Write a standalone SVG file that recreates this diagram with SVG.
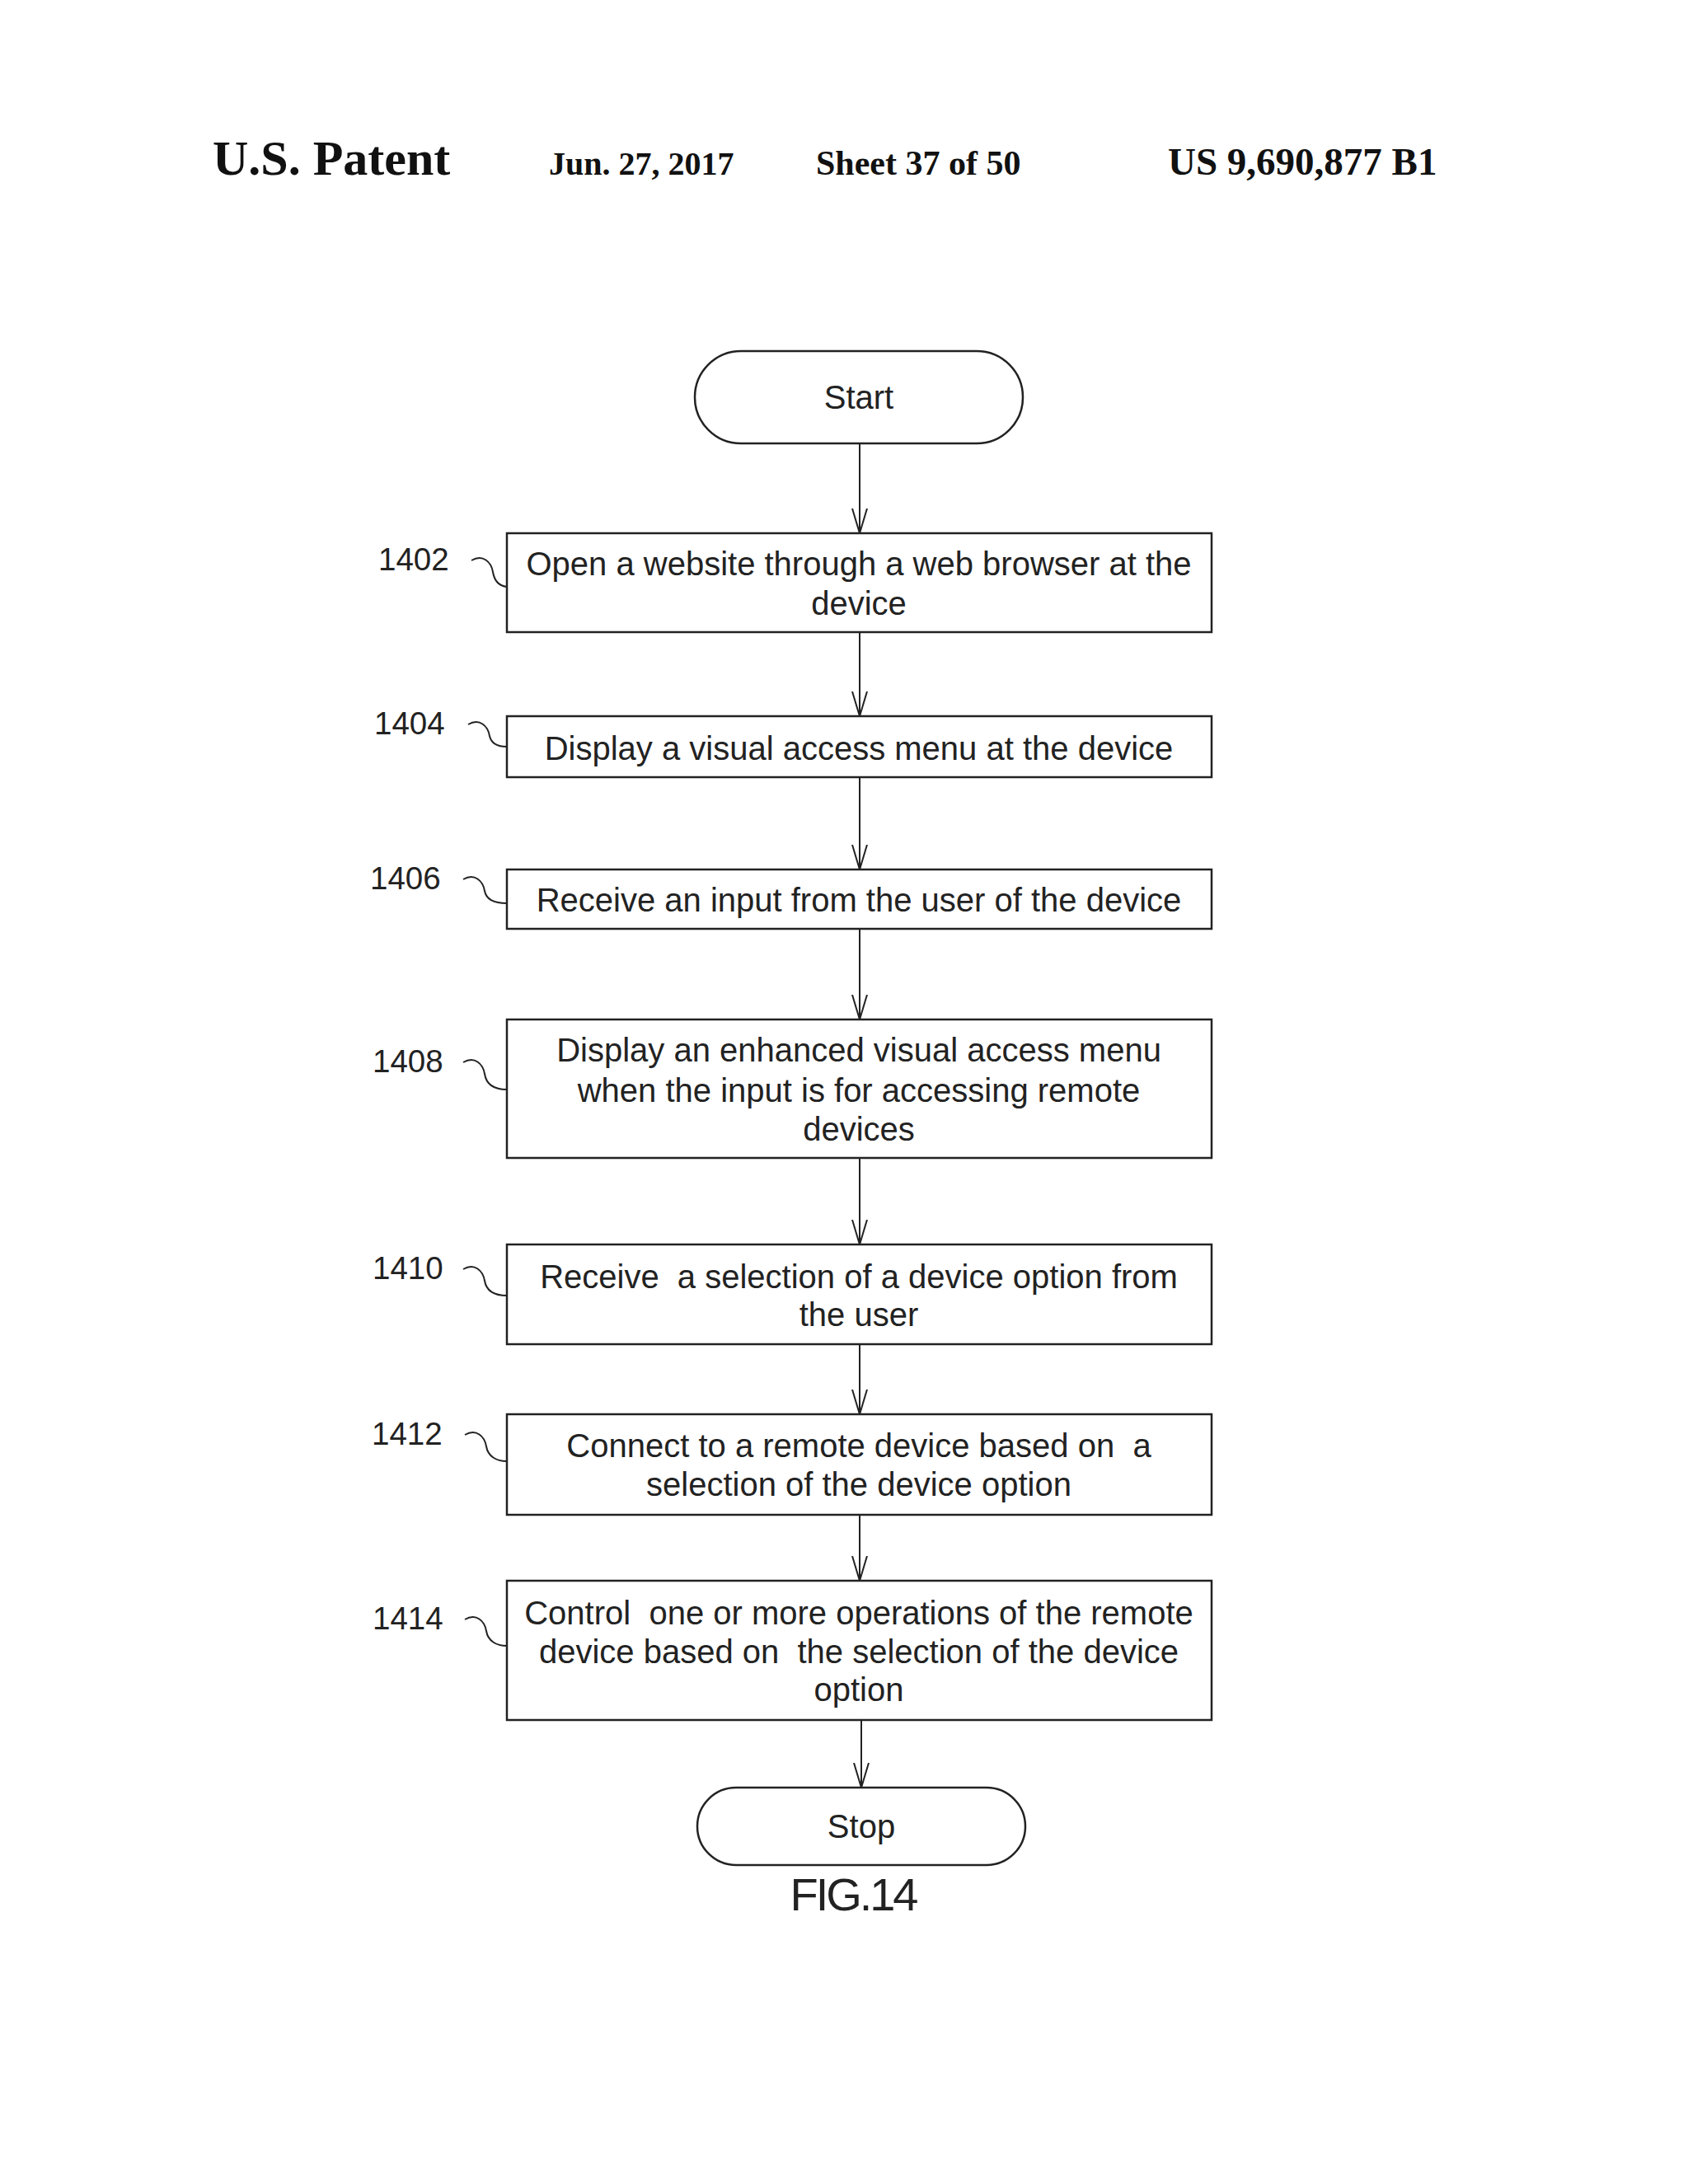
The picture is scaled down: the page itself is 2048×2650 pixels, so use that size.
<svg xmlns="http://www.w3.org/2000/svg" width="2048" height="2650" viewBox="0 0 2048 2650">
<style>
.b{fill:#fff;stroke:#222;stroke-width:2.5}
.t{font-family:"Liberation Sans",Arial,sans-serif;font-size:40px;fill:#222;text-anchor:middle}
.l{font-family:"Liberation Sans",Arial,sans-serif;font-size:38.5px;fill:#222}
.h{font-family:"Liberation Serif","Times New Roman",serif;font-weight:bold;fill:#111}
.c{fill:none;stroke:#222;stroke-width:2}
</style>
<defs><marker id="a" viewBox="0 0 30 20" refX="30" refY="10" markerWidth="30" markerHeight="20" markerUnits="userSpaceOnUse" orient="auto"><path d="M0 1 L30 10 L0 19" fill="none" stroke="#222" stroke-width="2"/></marker></defs>
<rect width="2048" height="2650" fill="#fff"/>
<text class="h" x="258" y="212" font-size="60">U.S. Patent</text>
<text class="h" x="666" y="212" font-size="40">Jun. 27, 2017</text>
<text class="h" x="990" y="212" font-size="42">Sheet 37 of 50</text>
<text class="h" x="1417" y="212" font-size="47">US 9,690,877 B1</text>
<g transform="translate(6,6)">
<g id="connectors">
<path class="c" d="M1037 532 V641" marker-end="url(#a)"/>
<path class="c" d="M1037 761 V863" marker-end="url(#a)"/>
<path class="c" d="M1037 937 V1049" marker-end="url(#a)"/>
<path class="c" d="M1037 1121 V1231" marker-end="url(#a)"/>
<path class="c" d="M1037 1399 V1504" marker-end="url(#a)"/>
<path class="c" d="M1037 1625 V1710" marker-end="url(#a)"/>
<path class="c" d="M1037 1832 V1912" marker-end="url(#a)"/>
<path class="c" d="M1039 2081 V2163" marker-end="url(#a)"/>
<path class="c" d="M566 674 C580 666 590 676 592 688 C594 700 600 705 609 706"/>
<path class="c" d="M562 873 C576 865 586 875 588 887 C590 896 598 900 609 900"/>
<path class="c" d="M556 1061 C570 1053 580 1063 582 1075 C584 1086 594 1090 609 1090"/>
<path class="c" d="M556 1283 C570 1275 580 1285 582 1297 C584 1310 594 1316 609 1316"/>
<path class="c" d="M556 1534 C570 1526 580 1536 582 1548 C584 1560 594 1566 609 1566"/>
<path class="c" d="M558 1735 C572 1727 582 1737 584 1749 C586 1761 596 1767 609 1767"/>
<path class="c" d="M558 1959 C572 1951 582 1961 584 1973 C586 1985 596 1991 609 1991"/>
</g>
<g id="start"><rect class="b" x="837" y="420" width="398" height="112" rx="56"/><text class="t" x="1036" y="490">Start</text></g>
<g id="n1402"><rect class="b" x="609" y="641" width="855" height="120"/><text class="t" x="1036" y="692">Open a website through a web browser at the</text><text class="t" x="1036" y="740">device</text><text class="l" x="453" y="686">1402</text></g>
<g id="n1404"><rect class="b" x="609" y="863" width="855" height="74"/><text class="t" x="1036" y="916">Display a visual access menu at the device</text><text class="l" x="448" y="885">1404</text></g>
<g id="n1406"><rect class="b" x="609" y="1049" width="855" height="72"/><text class="t" x="1036" y="1100">Receive an input from the user of the device</text><text class="l" x="443" y="1073">1406</text></g>
<g id="n1408"><rect class="b" x="609" y="1231" width="855" height="168"/><text class="t" x="1036" y="1282">Display an enhanced visual access menu</text><text class="t" x="1036" y="1331">when the input is for accessing remote</text><text class="t" x="1036" y="1378">devices</text><text class="l" x="446" y="1295">1408</text></g>
<g id="n1410"><rect class="b" x="609" y="1504" width="855" height="121"/><text class="t" x="1036" y="1557" xml:space="preserve">Receive  a selection of a device option from</text><text class="t" x="1036" y="1603">the user</text><text class="l" x="446" y="1546">1410</text></g>
<g id="n1412"><rect class="b" x="609" y="1710" width="855" height="122"/><text class="t" x="1036" y="1762" xml:space="preserve">Connect to a remote device based on  a</text><text class="t" x="1036" y="1809">selection of the device option</text><text class="l" x="445" y="1747">1412</text></g>
<g id="n1414"><rect class="b" x="609" y="1912" width="855" height="169"/><text class="t" x="1036" y="1965" xml:space="preserve">Control  one or more operations of the remote</text><text class="t" x="1036" y="2012" xml:space="preserve">device based on  the selection of the device</text><text class="t" x="1036" y="2058">option</text><text class="l" x="446" y="1971">1414</text></g>
<g id="stop"><rect class="b" x="840" y="2163" width="398" height="94" rx="47"/><text class="t" x="1039" y="2224">Stop</text></g>
<text class="t" x="1031" y="2312" font-size="56" style="font-size:56px;letter-spacing:1px" textLength="157">FIG.14</text>
</g>
</svg>
